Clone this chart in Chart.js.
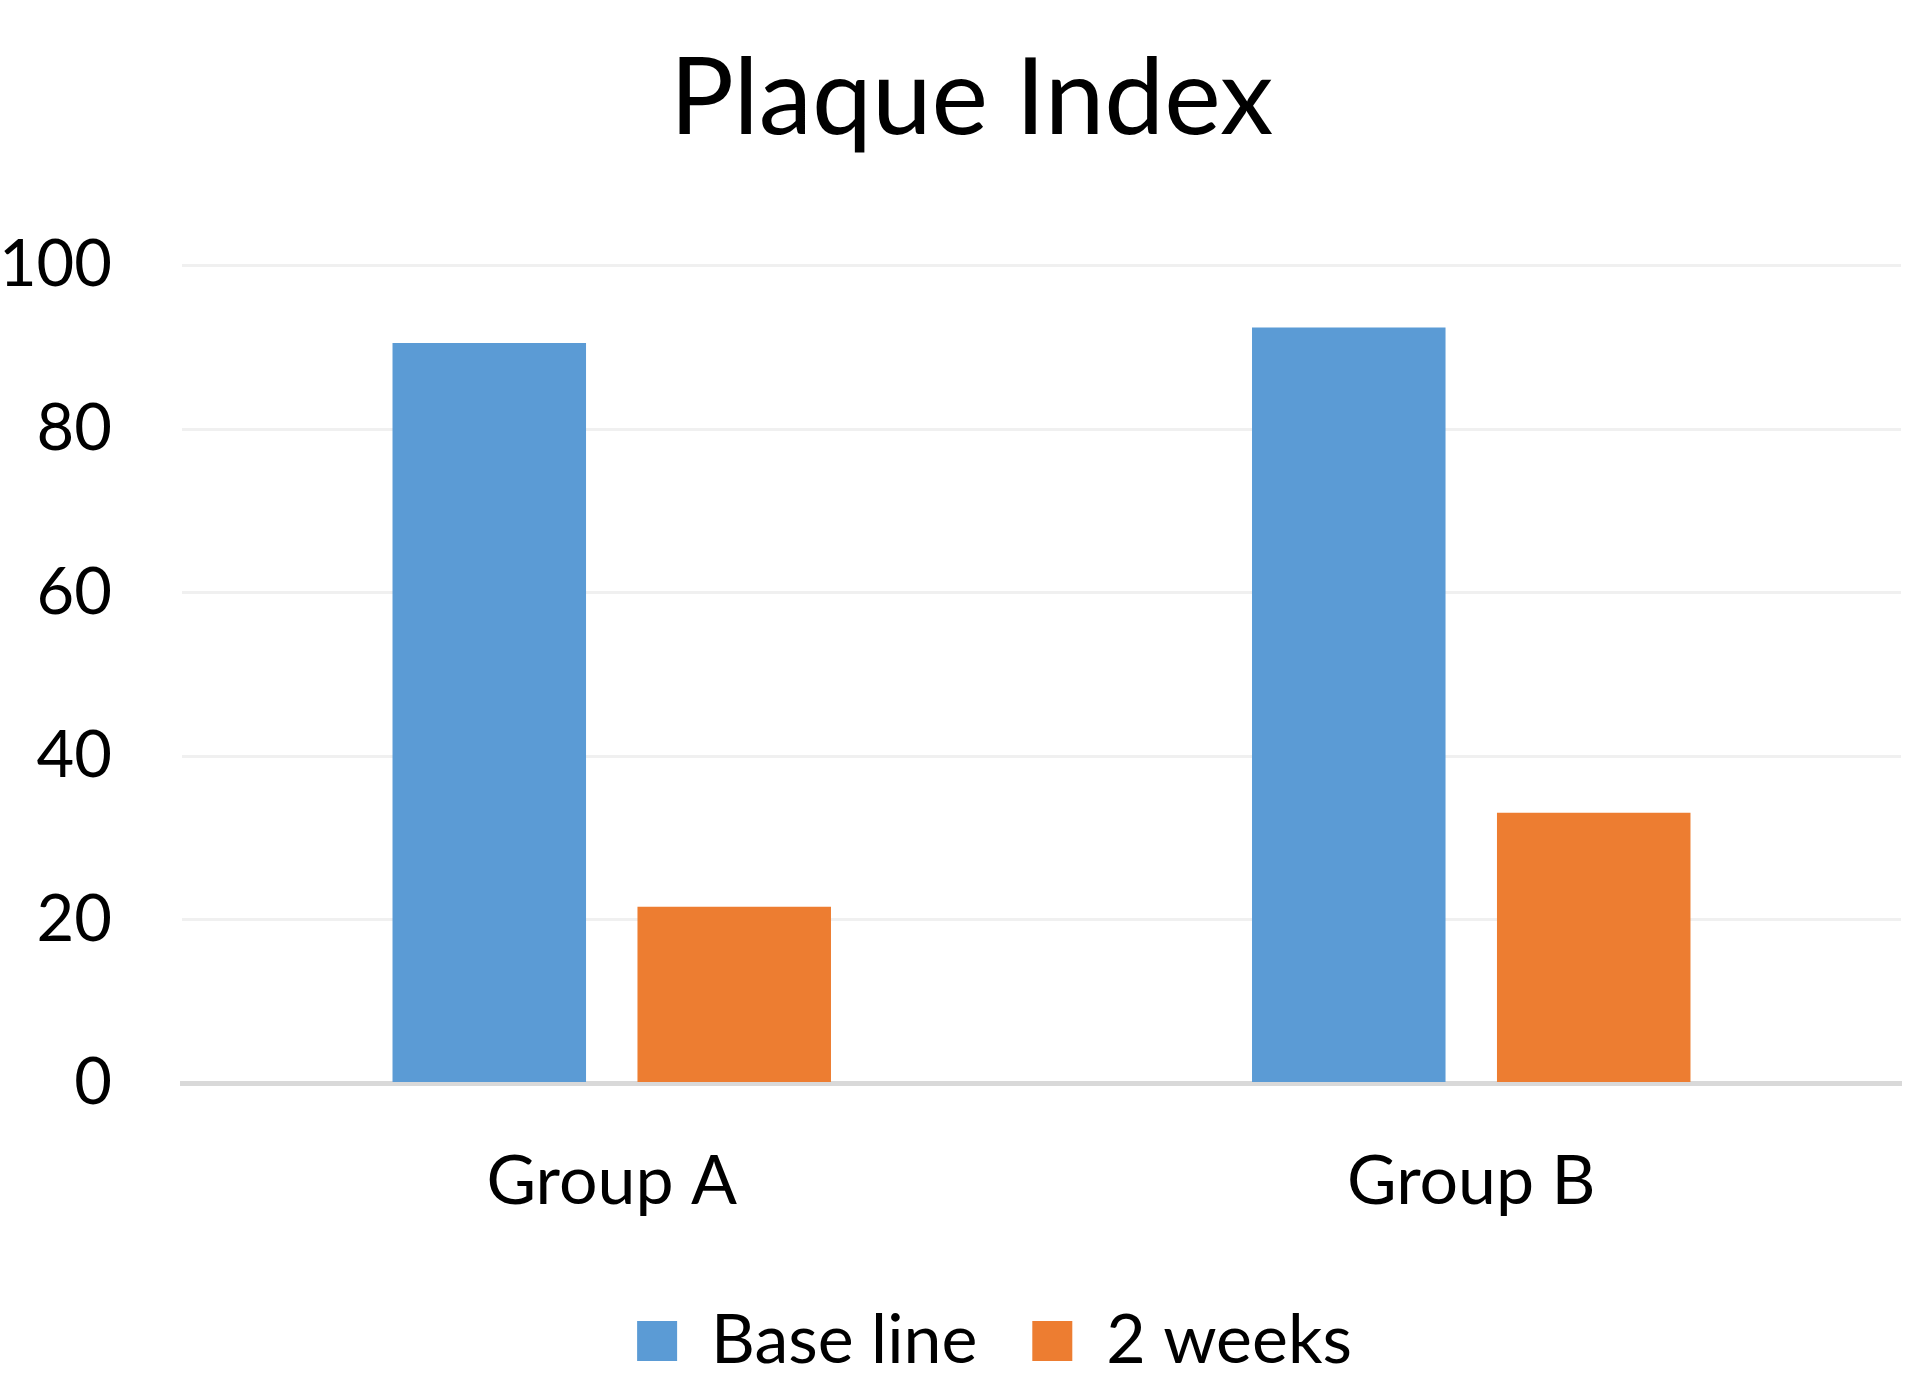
<!DOCTYPE html>
<html>
<head>
<meta charset="utf-8">
<script src="https://cdn.jsdelivr.net/npm/chart.js@4/dist/chart.umd.min.js"></script>
<style>
  html, body { margin: 0; padding: 0; background: #ffffff; }
  canvas { display: block; }
</style>
</head>
<body>
<canvas id="plaqueChart" width="1913" height="1380"></canvas>
<script>
// Datos del gráfico
const groups = ['Group A', 'Group B']
const baseLine = [90.5, 92.4]
const twoWeeks = [21.6, 33.1]
const yTicks = [0, 20, 40, 60, 80, 100]

const FONT = 'Lato, "Open Sans", sans-serif'

// Ajuste fino: leyenda más compacta y título/leyenda desplazados como en Excel
const boxShift = {
    id: 'boxShift',
    beforeLayout(chart) {
        const legend = chart.legend
        if (legend && !legend._patched) {
            const fit = legend.fit
            legend.fit = function () {
                fit.call(this)
                this.height -= 34
            }
            legend._patched = true
        }
    },
    afterLayout(chart) {
        const legend = chart.legend
        legend.top -= 29
        legend.bottom = chart.height
        legend.left += 44
        legend.right += 44
        const title = chart.titleBlock
        title.left += 21
        title.right += 21
    }
}

const ctx = document.getElementById('plaqueChart').getContext('2d')
new Chart(ctx, {
    type: 'bar',
    data: {
        labels: groups,
        datasets: [
            {
                label: 'Base line',
                data: baseLine,
                backgroundColor: '#5B9BD5',
                borderWidth: 0
            },
            {
                label: '2 weeks',
                data: twoWeeks,
                backgroundColor: '#ED7D31',
                borderWidth: 0
            }
        ]
    },
    options: {
        responsive: false,
        animation: false,
        categoryPercentage: 0.57,
        barPercentage: 0.79,
        layout: {
            padding: { left: 0, right: 12, top: 0, bottom: 0 }
        },
        scales: {
            x: {
                grid: { display: false, drawTicks: false },
                border: { display: true, color: '#D9D9D9', width: 5 },
                ticks: {
                    color: '#000000',
                    padding: 58,
                    font: { family: FONT, size: 68 }
                }
            },
            y: {
                min: 0,
                max: 100,
                afterBuildTicks: axis => {
                    axis.ticks = yTicks.map(v => ({ value: v }))
                },
                afterFit: axis => {
                    axis.width = 182 // el área del gráfico empieza en x = 182
                },
                grid: { color: '#F0F0F0', lineWidth: 3, drawTicks: false },
                border: { display: false },
                ticks: {
                    color: '#000000',
                    padding: 70,
                    font: { family: FONT, size: 65 }
                }
            }
        },
        plugins: {
            title: {
                display: true,
                text: 'Plaque Index',
                color: '#000000',
                font: { family: FONT, size: 107, weight: 'normal' },
                padding: { top: 35, bottom: 102 }
            },
            legend: {
                position: 'bottom',
                labels: {
                    color: '#000000',
                    boxWidth: 40,
                    boxHeight: 40,
                    padding: 55,
                    font: { family: FONT, size: 68 }
                }
            },
            tooltip: { enabled: false }
        }
    },
    plugins: [boxShift]
})
</script>
</body>
</html>
